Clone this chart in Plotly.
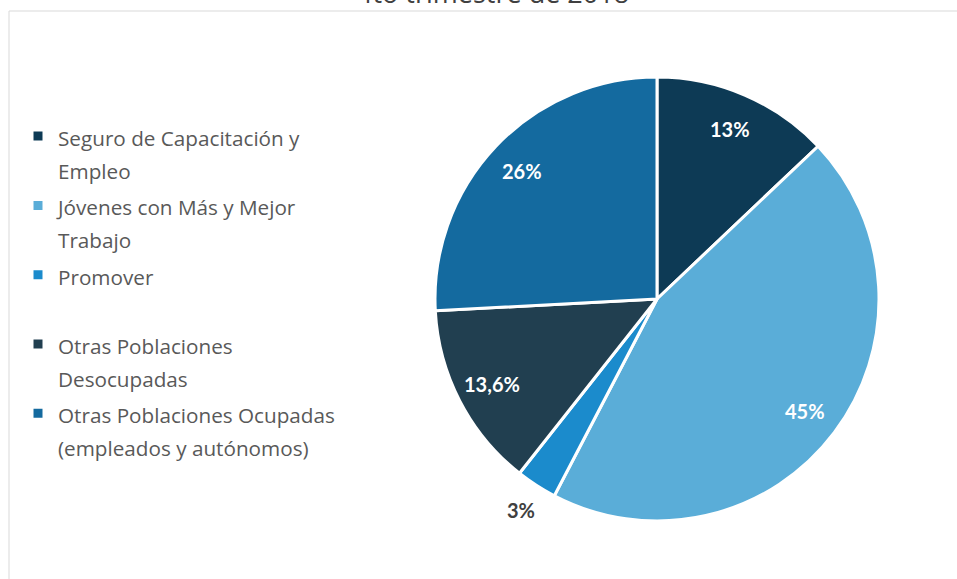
import math
import plotly.graph_objects as go

labels = [
    "Seguro de Capacitación y<br>Empleo",
    "Jóvenes con Más y Mejor<br>Trabajo",
    "Promover<br> ",
    "Otras Poblaciones<br>Desocupadas",
    "Otras Poblaciones Ocupadas<br>(empleados y autónomos)",
]
values = [13, 45, 3, 13.6, 26]
value_text = ["13%", "45%", "3%", "13,6%", "26%"]
colors = ["#0D3A55", "#5AADD8", "#1B8BCC", "#213F50", "#146A9F"]
label_inside = [True, True, False, True, True]
title_text = "4to trimestre de 2018"

W, H = 957, 579
cx, cy, r = 657, 299, 222

dom_x = [(cx - r) / W, (cx + r) / W]
dom_y = [1 - (cy + r) / H, 1 - (cy - r) / H]

fig = go.Figure(
    go.Pie(
        labels=[f'<span style="font-size:20.7px">{l}</span>' for l in labels],
        values=values,
        textinfo="none",
        sort=False,
        direction="clockwise",
        rotation=0,
        marker=dict(colors=colors, line=dict(color="white", width=3)),
        hoverinfo="label+percent",
        domain=dict(x=dom_x, y=dom_y),
    )
)

# data labels placed along each slice's bisector (angles derived from values)
total = sum(values)
annotations = []
cum = 0.0
for v, t, inside in zip(values, value_text, label_inside):
    mid = (cum + v / 2) / total * 2 * math.pi
    cum += v
    frac = 0.835 if inside else 1.13
    px = cx + frac * r * math.sin(mid)
    py = cy - frac * r * math.cos(mid)
    annotations.append(dict(
        text=f"<b>{t}</b>", xref="paper", yref="paper", x=px / W, y=1 - py / H,
        xanchor="center", yanchor="middle", showarrow=False,
        font=dict(family="Lato", size=20, color="white" if inside else "#404040"),
    ))

annotations.append(dict(
    text=title_text, xref="paper", yref="paper", x=493 / W, y=1 - 13 / H,
    xanchor="center", yanchor="bottom", showarrow=False,
    font=dict(family="Open Sans", size=27, color="#404040"),
))

fig.update_layout(
    width=W,
    height=H,
    margin=dict(l=0, r=0, t=0, b=0),
    paper_bgcolor="white",
    plot_bgcolor="white",
    showlegend=True,
    legend=dict(
        x=18 / W,
        y=1 - 113 / H,
        xanchor="left",
        yanchor="top",
        font=dict(family="Open Sans", size=25.5, color="#595959"),
        valign="top",
        itemwidth=30,
        tracegroupgap=0,
    ),
    shapes=[
        dict(type="rect", xref="paper", yref="paper",
             x0=9 / W, x1=1.05, y0=-0.05, y1=1 - 11 / H,
             line=dict(color="#D9D9D9", width=1), fillcolor="rgba(0,0,0,0)", layer="below"),
    ],
    annotations=annotations,
)

fig.write_html("out.html", config={"displayModeBar": False},
               post_script="document.body.style.margin='0';")
